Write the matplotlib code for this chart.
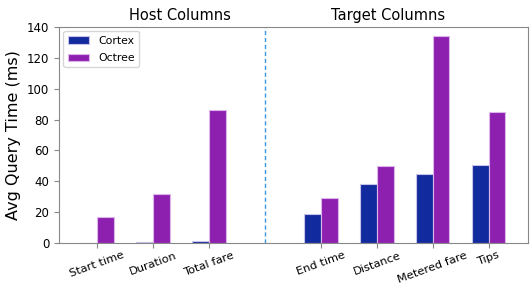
import matplotlib
matplotlib.use("Agg")
import matplotlib.pyplot as plt
import numpy as np

# data
columns = ["Start time", "Duration", "Total fare", "End time", "Distance", "Metered fare", "Tips"]
positions = [0, 1, 2, 4, 5, 6, 7]
cortex = [0.3, 0.6, 1.2, 18.6, 38.2, 44.7, 50.7]
octree = [16.7, 31.5, 86.2, 29.4, 49.9, 134.2, 85.1]

fig, ax = plt.subplots(figsize=(5.32, 2.83), dpi=100)
fig.subplots_adjust(left=0.111, right=0.992, top=0.905, bottom=0.141)

x = np.array(positions)
w = 0.3
ax.bar(x - w / 2, cortex, w, color="#112a9e", edgecolor="#c9c2ea", linewidth=0.8, label="Cortex")
ax.bar(x + w / 2, octree, w, color="#8e20b0", edgecolor="#dcb6ea", linewidth=0.8, label="Octree")

ax.axvline(3, color="#3b94e0", linestyle=(0, (3, 2)), linewidth=1.0)

ax.set_xlim(-0.68, 7.7)
ax.set_ylim(0, 140)
ax.set_yticks([0, 20, 40, 60, 80, 100, 120, 140])
ax.set_xticks(positions)
ax.set_xticklabels(columns, rotation=20, ha="center")
ax.tick_params(axis="y", labelsize=8.5, color="#888888")
ax.tick_params(axis="x", labelsize=8.2, color="#888888", pad=1.5)
ax.set_ylabel("Avg Query Time (ms)", fontsize=11.5)

for s in ax.spines.values():
    s.set_color("#888888")

ax.text(1.48, 142.5, "Host Columns", ha="center", va="bottom", fontsize=10.5)
ax.text(5.2, 142.5, "Target Columns", ha="center", va="bottom", fontsize=10.5)

ax.legend(loc="upper left", fontsize=7.8, borderaxespad=0.4, labelspacing=0.7)

fig.savefig("out.png", dpi=100)
